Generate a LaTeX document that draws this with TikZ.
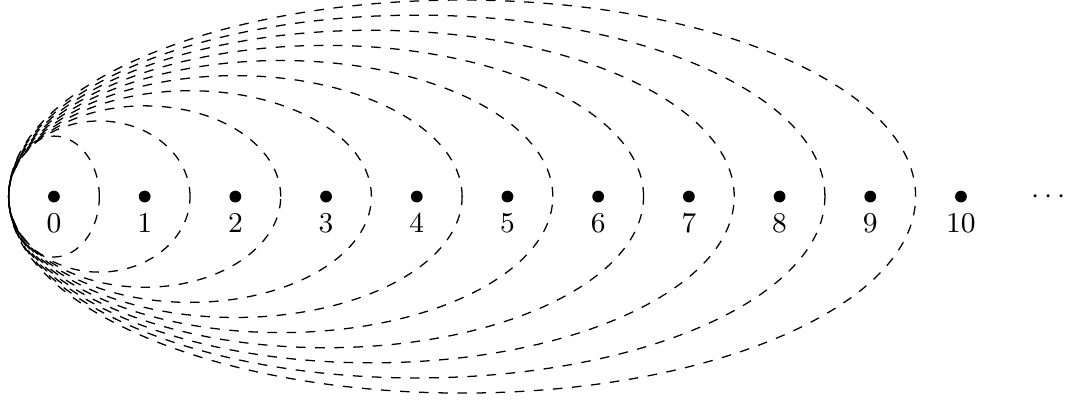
\documentclass[tikz,border=0pt]{standalone}
\begin{document}
\begin{tikzpicture}[
	every node/.style = {font=\small},
	pt/.style = {circle, fill=black, inner sep=0pt, minimum size=0.13cm, label={[label distance=0cm]below:#1}},
	orbit/.style = {dashed, thin}
	]
	\useasboundingbox (-0.595,-2.266) rectangle (11.147,2.167);

	%Orbits
	\draw[orbit]	(0,0)		ellipse	(0.5 and 0.6667);
	\draw[orbit]	(0.5,0)		ellipse	(1 and 0.8333);
	\draw[orbit]	(1,0)		ellipse	(1.5 and 1);
	\draw[orbit]	(1.5,0)		ellipse	(2 and 1.1667);
	\draw[orbit]	(2,0)		ellipse	(2.5 and 1.3333);
	\draw[orbit]	(2.5,0)		ellipse	(3 and 1.5);
	\draw[orbit]	(3,0)		ellipse	(3.5 and 1.6667);
	\draw[orbit]	(3.5,0)		ellipse	(4 and 1.8333);
	\draw[orbit]	(4,0)		ellipse	(4.5 and 2);
	\draw[orbit]	(4.5,0)		ellipse	(5 and 2.1667);

	%Nodes
	\node[pt={$0$}]		(n0)	at	(0, 0)	{};
	\node[pt={$1$}]		(n1)	at	(1, 0)	{};
	\node[pt={$2$}]		(n2)	at	(2, 0)	{};
	\node[pt={$3$}]		(n3)	at	(3, 0)	{};
	\node[pt={$4$}]		(n4)	at	(4, 0)	{};
	\node[pt={$5$}]		(n5)	at	(5, 0)	{};
	\node[pt={$6$}]		(n6)	at	(6, 0)	{};
	\node[pt={$7$}]		(n7)	at	(7, 0)	{};
	\node[pt={$8$}]		(n8)	at	(8, 0)	{};
	\node[pt={$9$}]		(n9)	at	(9, 0)	{};
	\node[pt={$10$}]	(n10)	at	(10, 0)	{};
	\node				(more)	at	(10.97, 0)	{$\cdots$};
\end{tikzpicture}
\end{document}
